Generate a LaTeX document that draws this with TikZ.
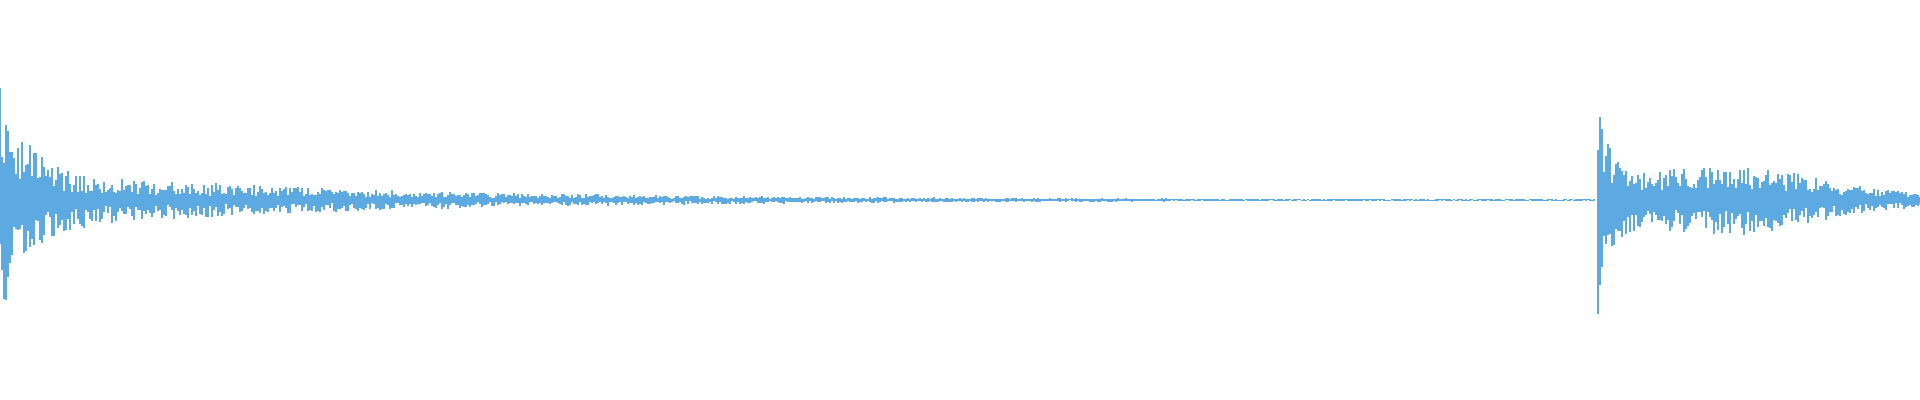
\documentclass[tikz,border=0pt]{standalone}
\usepackage{xcolor}
\definecolor{wavecol}{HTML}{5DA9E1}
\begin{document}
\begin{tikzpicture}[x=0.01cm, y=0.01cm]
		
		% Setup the style for the samples
		\tikzset{wave/.style={draw=wavecol, line width=0.35pt}}
		\path[use as bounding box] (0,0) rectangle (1920,400);
		\clip (0,0) rectangle (1920,400);
		\pgfmathsetseed{7}
		
		% First burst and its decay
		\foreach \x in {0,2,...,1594}{
			\pgfmathsetmacro\amp{92*exp(-min(\x/24.5,12))+31*exp(-min(\x/330,12))+0.7}
			\pgfmathsetmacro\up{\amp*(0.25+0.75*rnd)}
			\pgfmathsetmacro\dn{\amp*(0.25+0.75*rnd)}
			\draw[wave] (\x,200+\up) -- (\x,200-\dn);
		}
		
		% Second burst
		\foreach \x in {1598,1600,...,1920}{
			\pgfmathsetmacro\dd{\x-1598}
			\pgfmathsetmacro\amp{92*exp(-min(\dd/10,12))+28*exp(-min(\dd/200,12))+20*exp(-min(((\dd-150)/90)^2,12))+2}
			\pgfmathsetmacro\up{\amp*(0.3+0.7*rnd)}
			\pgfmathsetmacro\dn{\amp*(0.3+0.7*rnd)}
			\draw[wave] (\x,200+\up) -- (\x,200-\dn);
		}
\end{tikzpicture}
\end{document}
